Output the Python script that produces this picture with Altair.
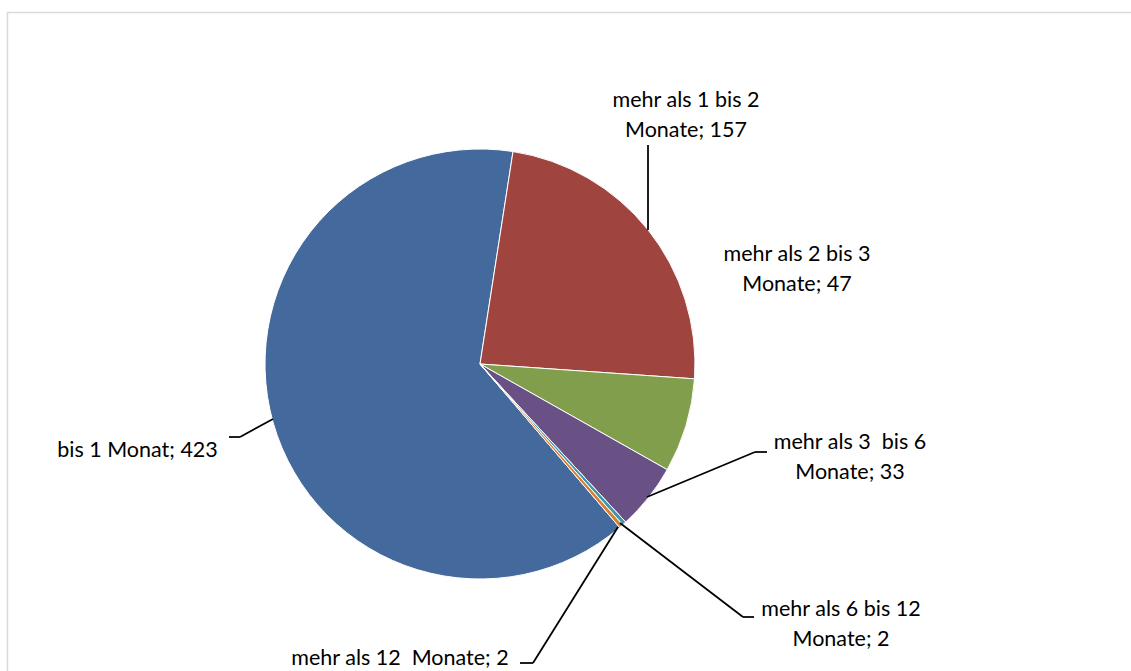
import math
import altair as alt
import pandas as pd

W, H = 1131, 671

# ---- data ----
categories = ["bis 1 Monat", "mehr als 1 bis 2 Monate", "mehr als 2 bis 3 Monate",
              "mehr als 3  bis 6 Monate", "mehr als 6 bis 12 Monate", "mehr als 12  Monate"]
values = [423, 157, 47, 33, 2, 2]
colors = ["#44699C", "#A04440", "#809E4B", "#6A5185", "#3F97AE", "#DA7F36"]

# label text (with Excel's line breaks)
label_texts = ["bis 1 Monat; 423", "mehr als 1 bis 2\nMonate; 157", "mehr als 2 bis 3\nMonate; 47",
               "mehr als 3\u00a0 bis 6\nMonate; 33", "mehr als 6 bis 12\nMonate; 2",
               "mehr als 12\u00a0 Monate; 2"]

# ---- layout (pixels) ----
cx, cy, R = 480, 364, 215
start_deg = 139.5
label_x = [137.5, 686, 797, 850, 841, 400]
label_y = [451, 101, 255, 443, 610, 659]

leader_x = [229, 240, 648, 755, 755, 743, 743, 520, 533]
leader_y = [437, 437, 145, 452, 452, 617, 617, 663, 663]
leader_x2 = [240, 273, 648, 767, 647, 754, 620, 533, 618]
leader_y2 = [437, 419, 230, 452, 497, 617, 523, 663, 527]

pie_df = pd.DataFrame({"cat": categories, "value": values, "idx": list(range(len(values)))})
lab_df = pd.DataFrame({"text": label_texts, "x": label_x, "y": label_y})
lead_df = pd.DataFrame({"x": leader_x, "y": leader_y, "x2": leader_x2, "y2": leader_y2})

xs = alt.Scale(domain=[0, W], range=[0, W])
ys = alt.Scale(domain=[0, H], range=[0, H])

t0 = math.radians(start_deg)

frame = alt.Chart(pd.DataFrame({"a": [0]})).mark_rect(
    fill="white", stroke="#D9D9D9", strokeWidth=1.5
).encode(x=alt.value(7.5), y=alt.value(12.5), x2=alt.value(W + 20), y2=alt.value(H + 20))

pie = alt.Chart(pie_df).mark_arc(radius=R, stroke="white", strokeWidth=1).encode(
    theta=alt.Theta("value:Q", stack=True, scale=alt.Scale(range=[t0, t0 + 2 * math.pi])),
    color=alt.Color("cat:N", scale=alt.Scale(domain=categories, range=colors), legend=None),
    order=alt.Order("idx:Q"),
    x=alt.value(cx), y=alt.value(cy),
)

leaders = alt.Chart(lead_df).mark_rule(color="black", strokeWidth=1.75).encode(
    x=alt.X("x:Q", scale=xs, axis=None), y=alt.Y("y:Q", scale=ys, axis=None),
    x2="x2:Q", y2="y2:Q",
)

labels = alt.Chart(lab_df).mark_text(
    font="Lato", fontSize=21.5, lineHeight=29.5, lineBreak="\n", align="center",
    baseline="middle", color="#000000"
).encode(
    x=alt.X("x:Q", scale=xs, axis=None), y=alt.Y("y:Q", scale=ys, axis=None), text="text:N"
)

chart = alt.layer(frame, pie, leaders, labels).properties(
    width=W, height=H, autosize=alt.AutoSizeParams(type="none"), padding=0
).configure_view(stroke=None)

chart.save("out.html", embed_options={"renderer": "svg", "actions": False})
